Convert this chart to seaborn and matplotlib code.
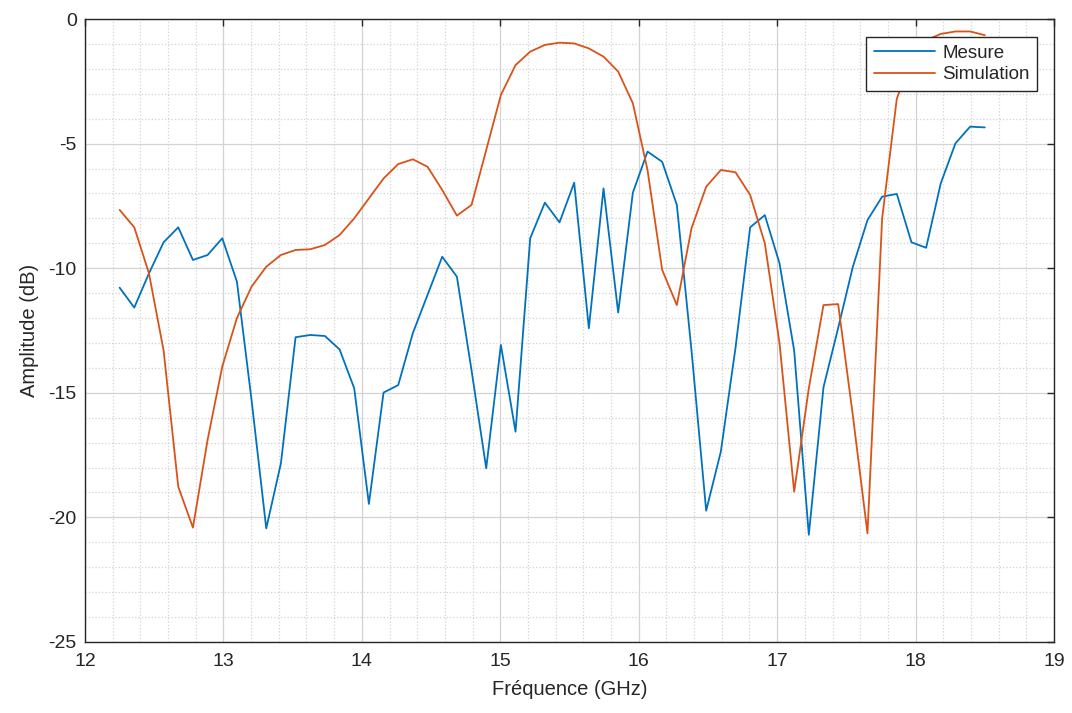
import numpy as np
import pandas as pd
import matplotlib
matplotlib.use("Agg")
import matplotlib.pyplot as plt
from matplotlib.ticker import MultipleLocator
import seaborn as sns

# Frequency sweep (GHz), 60 points from 12.25 to 18.5
freq_ghz = np.linspace(12.25, 18.5, 60)

# Measured response (dB)
mesure_db = [
    -10.78, -11.58, -10.21, -8.96, -8.36, -9.67, -9.47, -8.80, -10.54, -15.3,
    -20.44, -17.83, -12.77, -12.68, -12.72, -13.26, -14.82, -19.46, -14.99, -14.69,
    -12.6, -11.07, -9.54, -10.34, -14.1, -18.03, -13.08, -16.56, -8.80, -7.37,
    -8.16, -6.57, -12.41, -6.80, -11.78, -6.97, -5.32, -5.73, -7.46, -13.3,
    -19.73, -17.36, -13.2, -8.36, -7.87, -9.80, -13.3, -20.7, -14.78, -12.4,
    -9.95, -8.07, -7.13, -7.02, -8.96, -9.18, -6.59, -4.99, -4.32, -4.35,
]

# Simulated response (dB)
simulation_db = [
    -7.66, -8.36, -10.2, -13.3, -18.77, -20.41, -16.89, -13.95, -12.0, -10.74,
    -9.94, -9.47, -9.27, -9.24, -9.07, -8.67, -8.0, -7.2, -6.4, -5.82,
    -5.63, -5.93, -6.86, -7.89, -7.46, -5.26, -3.05, -1.85, -1.31, -1.04,
    -0.95, -0.98, -1.18, -1.51, -2.11, -3.38, -6.06, -10.07, -11.48, -8.40,
    -6.73, -6.06, -6.15, -7.06, -9.0, -13.0, -18.97, -14.82, -11.48, -11.44,
    -15.9, -20.64, -8.0, -3.2, -1.6, -0.85, -0.6, -0.5, -0.5, -0.65,
]

series_names = ["Mesure", "Simulation"]
series_colors = {"Mesure": "#0072BD", "Simulation": "#D95319"}

df = pd.DataFrame({
    "freq": np.concatenate([freq_ghz, freq_ghz]),
    "amp": np.concatenate([mesure_db, simulation_db]),
    "serie": [series_names[0]] * len(freq_ghz) + [series_names[1]] * len(freq_ghz),
})

sns.set_style("white")
plt.rcParams["font.family"] = ["Liberation Sans", "DejaVu Sans"]
plt.rcParams["axes.unicode_minus"] = False

ink = "#262626"
fig = plt.figure(figsize=(10.72, 7.13), dpi=100)
ax = fig.add_axes([85 / 1072, 1 - 642 / 713, 969 / 1072, 623 / 713])

sns.lineplot(data=df, x="freq", y="amp", hue="serie", hue_order=series_names,
             palette=series_colors, linewidth=1.3, estimator=None, sort=False,
             ax=ax)

ax.set_xlim(12, 19)
ax.set_ylim(-25, 0)
ax.xaxis.set_major_locator(MultipleLocator(1))
ax.xaxis.set_minor_locator(MultipleLocator(0.2))
ax.yaxis.set_major_locator(MultipleLocator(5))
ax.yaxis.set_minor_locator(MultipleLocator(1))

ax.grid(True, which="major", color="#d3d3d3", linewidth=0.9, linestyle="-")
ax.grid(True, which="minor", color="#d3d3d3", linewidth=0.9, linestyle=":")
ax.set_axisbelow(True)

for side in ["top", "right", "bottom", "left"]:
    ax.spines[side].set_visible(True)
    ax.spines[side].set_color(ink)
    ax.spines[side].set_linewidth(1.0)

ax.tick_params(which="major", direction="in", length=5, width=1.0, color=ink,
               top=True, right=True, labelsize=14, labelcolor=ink)
ax.tick_params(which="minor", length=0, top=True, right=True)
ax.tick_params(axis="x", pad=8)
ax.tick_params(axis="y", pad=6)

ax.set_xlabel("Fréquence (GHz)", fontsize=14.5, color=ink, labelpad=7)
ax.set_ylabel("Amplitude (dB)", fontsize=14.5, color=ink, labelpad=7)

leg = ax.legend(loc="upper right", bbox_to_anchor=((1037 - 85) / 969, (642 - 37) / 623),
                borderaxespad=0, fontsize=13.5, handlelength=3.3, handletextpad=0.35,
                labelspacing=0.25, borderpad=0.4, fancybox=False, framealpha=1,
                edgecolor=ink, title=None)
leg.get_frame().set_linewidth(1.0)

fig.savefig("out.png", dpi=100, facecolor="white")
